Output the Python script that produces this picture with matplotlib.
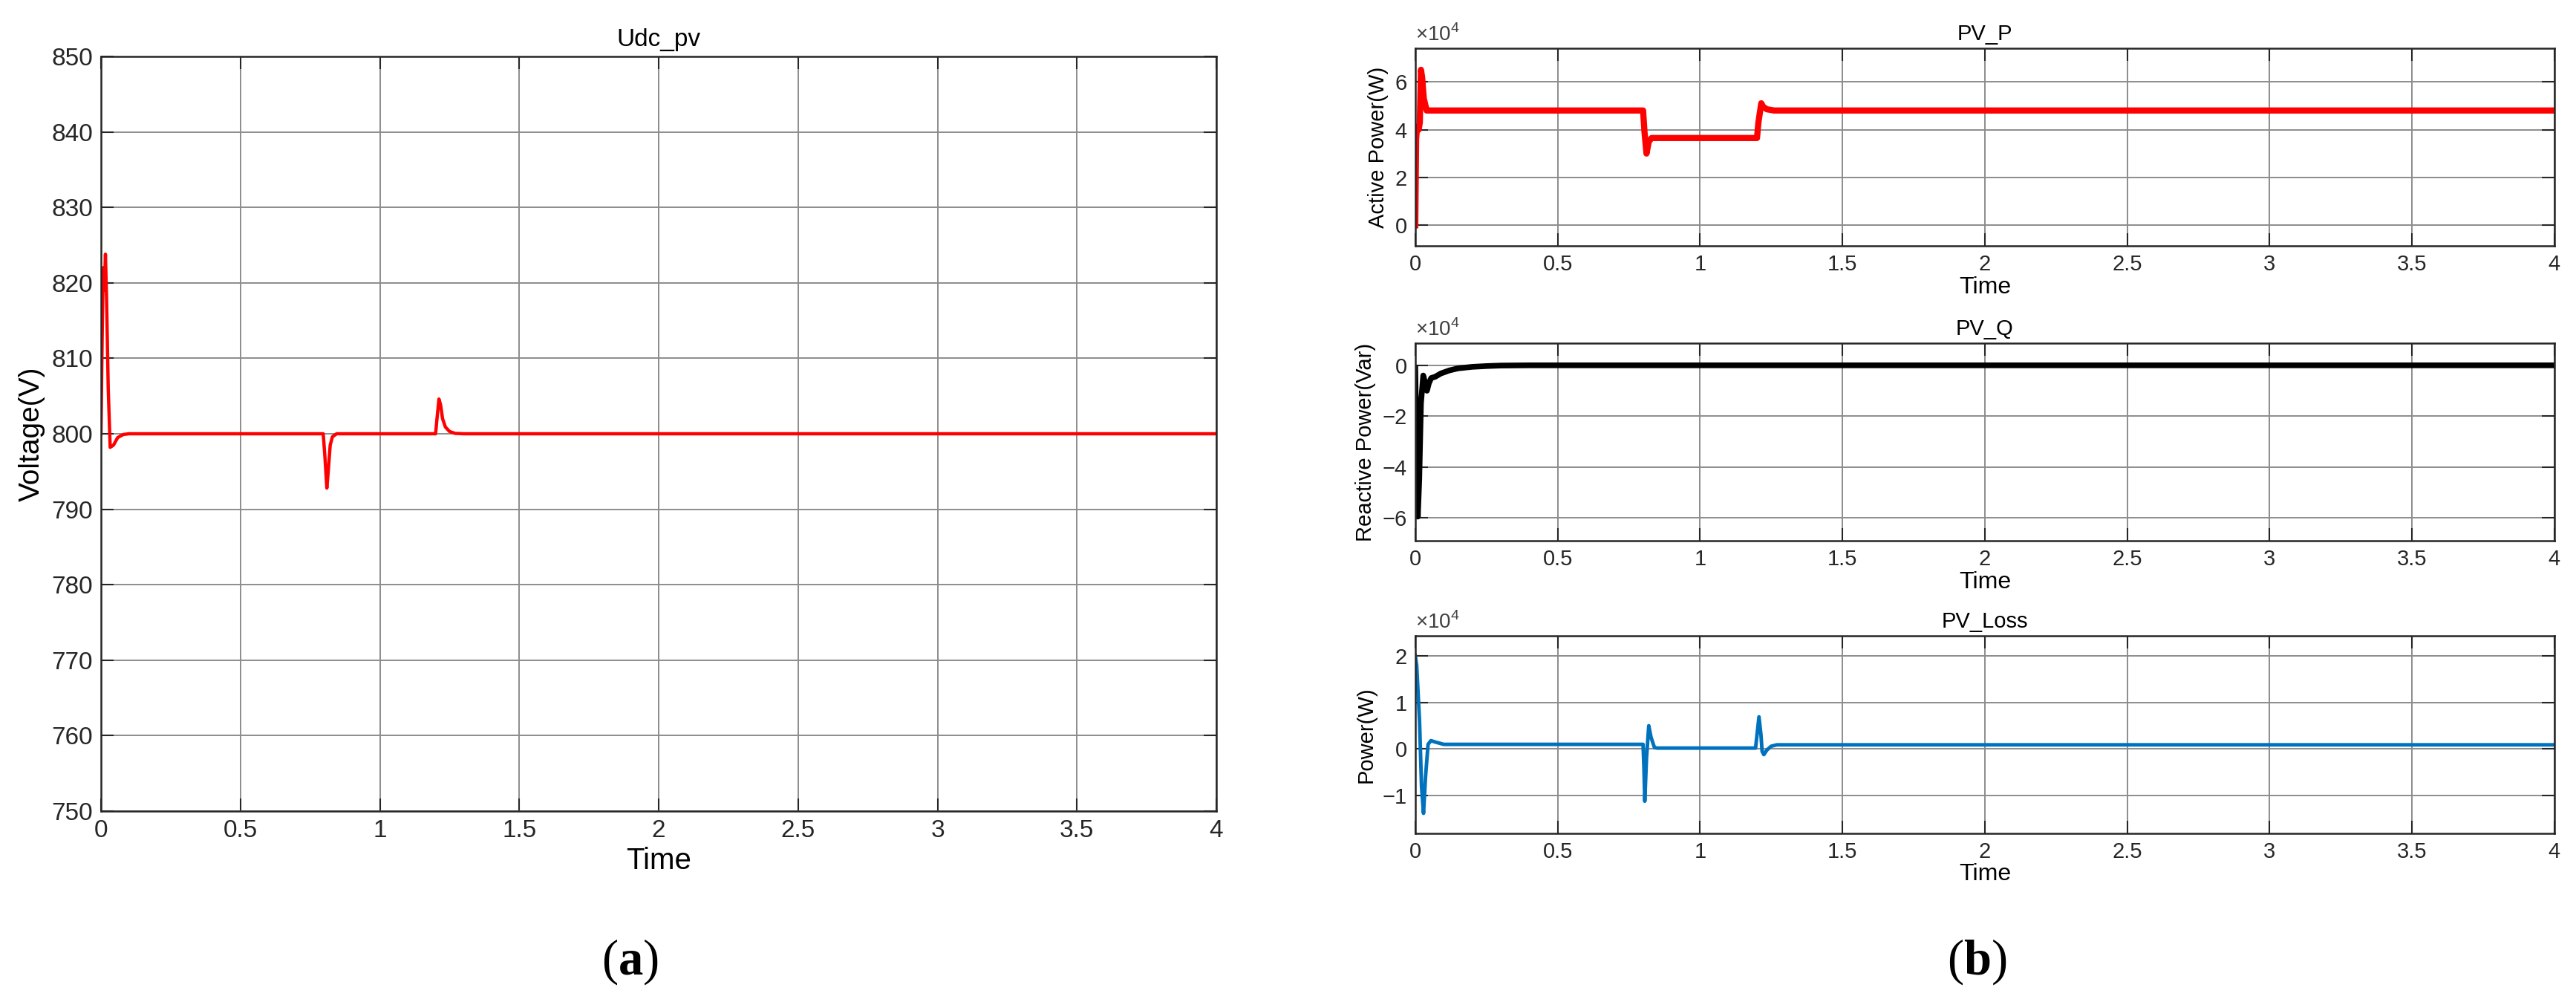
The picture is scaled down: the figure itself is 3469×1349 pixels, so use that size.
import matplotlib
matplotlib.use("Agg")
import matplotlib.pyplot as plt
from matplotlib.ticker import FuncFormatter

plt.rcParams['font.family'] = ['Liberation Sans', 'DejaVu Sans']
plt.rcParams['mathtext.fontset'] = 'custom'
plt.rcParams['mathtext.rm'] = 'Liberation Sans'
plt.rcParams['mathtext.bf'] = 'Liberation Serif:bold'

# (a) DC voltage of the PV array
t_udc = [0, 0.004, 0.008, 0.012, 0.016, 0.02, 0.026, 0.033, 0.045, 0.06, 0.08, 0.1,
         0.797, 0.803, 0.81, 0.815, 0.822, 0.83, 0.845, 0.87,
         1.2, 1.205, 1.212, 1.218, 1.225, 1.235, 1.25, 1.27, 1.3, 4.0]
udc = [800, 812, 822, 819, 823.8, 818, 806, 798.2, 798.5, 799.5, 799.9, 800,
       800, 797, 792.8, 795, 798.5, 799.6, 800, 800,
       800, 802, 804.6, 803.8, 802, 800.9, 800.3, 800.05, 800, 800]

# (b) active power, x1e4 W
t_p = [0, 0.003, 0.006, 0.012, 0.016, 0.02, 0.024, 0.03, 0.04, 0.05,
       0.8, 0.805, 0.812, 0.82, 0.83, 0.85,
       1.2, 1.205, 1.215, 1.222, 1.235, 1.26, 4.0]
pv_p = [0, 3.6, 4.1, 4.0, 4.3, 6.5, 6.2, 5.3, 4.8, 4.8,
        4.8, 3.9, 3.0, 3.5, 3.65, 3.65,
        3.65, 4.3, 5.1, 4.95, 4.85, 4.8, 4.8]

# reactive power, x1e4 Var
t_q = [0, 0.004, 0.009, 0.014, 0.02, 0.028, 0.035, 0.041, 0.048, 0.056,
       0.07, 0.09, 0.12, 0.15, 0.2, 0.25, 0.3, 0.4, 4.0]
pv_q = [-0.1, -3.0, -5.95, -4.5, -1.5, -0.4, -0.7, -1.0, -0.7, -0.5,
        -0.45, -0.32, -0.2, -0.12, -0.06, -0.03, -0.01, 0, 0]

# losses, x1e4 W
t_loss = [0, 0.005, 0.015, 0.022, 0.029, 0.036, 0.045, 0.055, 0.07, 0.1,
          0.8, 0.803, 0.806, 0.812, 0.82, 0.828, 0.84, 0.85,
          1.195, 1.2, 1.207, 1.214, 1.218, 1.224, 1.235, 1.25, 1.27, 4.0]
pv_loss = [2.0, 1.8, 0.6, -0.8, -1.38, -0.6, 0.1, 0.18, 0.15, 0.1,
           0.1, -0.4, -1.12, -0.2, 0.5, 0.25, 0.03, 0.02,
           0.02, 0.3, 0.69, 0.3, -0.05, -0.12, -0.02, 0.06, 0.09, 0.09]

x_ticks = [0, 0.5, 1, 1.5, 2, 2.5, 3, 3.5, 4]
fmt = FuncFormatter(lambda v, pos: '%g' % v)


def style(ax, tick_size):
    ax.set_xlim(0, 4)
    ax.set_xticks(x_ticks)
    ax.xaxis.set_major_formatter(fmt)
    ax.grid(True, color='#8c8c8c', linewidth=1.4)
    ax.set_axisbelow(True)
    ax.tick_params(direction='in', top=True, right=True, length=12, width=1.5,
                   labelsize=tick_size, colors='#262626', pad=8)
    for s in ax.spines.values():
        s.set_color('#262626')
        s.set_linewidth(1.8)


fig = plt.figure(figsize=(34.69, 13.49), dpi=100)

# left panel
ax = fig.add_axes([0.0392, 0.1905, 0.4330, 0.7532])
ax.plot(t_udc, udc, color='#ff0000', lw=3.2)
ax.set_ylim(750, 850)
ax.set_yticks(range(750, 851, 10))
style(ax, 24)
ax.set_title('Udc_pv', fontsize=24, pad=10)
ax.set_xlabel('Time', fontsize=29, labelpad=4)
ax.set_ylabel('Voltage(V)', fontsize=28, labelpad=6)

# right panels
right = [
    (0.7546, t_p, pv_p, '#ff0000', 6, (-0.86, 7.4), [0, 2, 4, 6], 'PV_P', 'Active Power(W)'),
    (0.4603, t_q, pv_q, '#000000', 5.5, (-6.9, 0.87), [-6, -4, -2, 0], 'PV_Q', 'Reactive Power(Var)'),
    (0.1683, t_loss, pv_loss, '#0072bd', 3.5, (-1.81, 2.43), [-1, 0, 1, 2], 'PV_Loss', 'Power(W)'),
]
for bottom, tx, vals, col, lw, ylim, yt, title, ylab in right:
    ax = fig.add_axes([0.5494, bottom, 0.4422, 0.1972])
    ax.plot(tx, vals, color=col, lw=lw)
    ax.set_ylim(*ylim)
    ax.set_yticks(yt)
    style(ax, 21)
    ax.set_title(title, fontsize=21, pad=8)
    ax.set_xlabel('Time', fontsize=23, labelpad=1)
    ax.set_ylabel(ylab, fontsize=21, labelpad=6)
    ax.text(0, 1.015, r'$\times10^{4}$', transform=ax.transAxes, fontsize=20,
            color='#404040', ha='left', va='bottom')

fig.text(0.2447, 0.028, r'($\mathbf{a}$)', fontsize=48, family='Liberation Serif', ha='center')
fig.text(0.7674, 0.028, r'($\mathbf{b}$)', fontsize=48, family='Liberation Serif', ha='center')

fig.savefig('out.png', dpi=100)
